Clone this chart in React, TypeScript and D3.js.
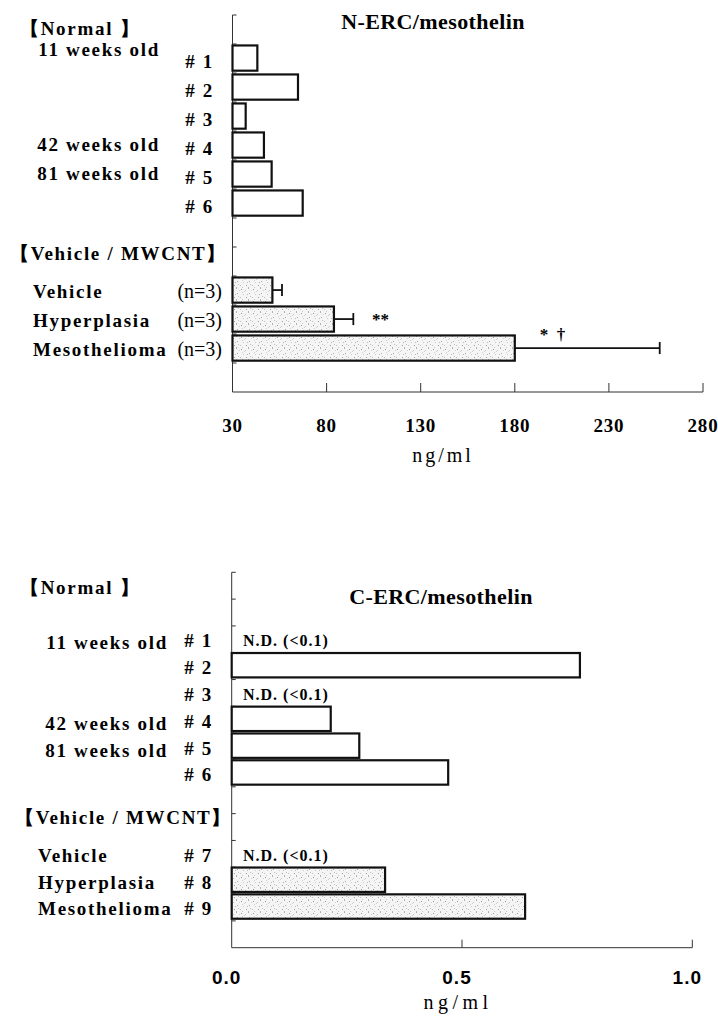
import React from "react";
import * as d3 from "d3";

// ---------- N-ERC/mesothelin (top) ----------
const nRows = ["top", "# 1", "# 2", "# 3", "# 4", "# 5", "# 6", "gap1", "gap2", "Vehicle", "Hyperplasia", "Mesothelioma", "bottom"];
const nBarKeys = ["# 1", "# 2", "# 3", "# 4", "# 5", "# 6", "Vehicle", "Hyperplasia", "Mesothelioma"];
const nValues = [43.2, 64.8, 37.0, 46.7, 50.8, 67.3, 51.2, 83.9, 180.0];
const nErrors = [0, 0, 0, 0, 0, 0, 5.1, 10.3, 77.0];
const nShaded = [false, false, false, false, false, false, true, true, true];
const nSignificance = ["", "", "", "", "", "", "", "**", "*  \u2020"];
const nTicks = [30, 80, 130, 180, 230, 280];
const nAgeRows = ["# 1", "# 4", "# 5"];
const nAgeLabels = ["11 weeks old", "42 weeks old", "81 weeks old"];
const nGroupRows = ["Vehicle", "Hyperplasia", "Mesothelioma"];
const nGroupCounts = ["(n=3)", "(n=3)", "(n=3)"];

// ---------- C-ERC/mesothelin (bottom) ----------
const cRows = ["top0", "top1", "# 1", "# 2", "# 3", "# 4", "# 5", "# 6", "gap1", "gap2", "# 7", "# 8", "# 9", "bottom"];
const cBarKeys = ["# 1", "# 2", "# 3", "# 4", "# 5", "# 6", "# 7", "# 8", "# 9"];
const cValues: (number | null)[] = [null, 0.756, null, 0.215, 0.277, 0.47, null, 0.333, 0.637];
const cShaded = [false, false, false, false, false, false, true, true, true];
const cTicks = [0, 0.5, 1.0];
const cAgeRows = ["# 1", "# 4", "# 5"];
const cAgeLabels = ["11 weeks old", "42 weeks old", "81 weeks old"];
const cGroupRows = ["# 7", "# 8", "# 9"];
const cGroupLabels = ["Vehicle", "Hyperplasia", "Mesothelioma"];
const ndText = "N.D. (<0.1)";

const SERIF = "'Liberation Serif', 'Times New Roman', serif";
const SANS = "'Liberation Sans', Arial, sans-serif";

function Pattern() {
  const dots: [number, number, string][] = [
    [1, 1, "#9a9a9a"], [5, 2, "#c4c4c4"], [8, 0, "#b0b0b0"], [3, 6, "#c8c8c8"], [9, 5, "#a8a8a8"],
    [0, 9, "#bdbdbd"], [6, 9, "#a0a0a0"], [4, 3, "#d4d4d4"], [10, 8, "#c0c0c0"], [2, 4, "#d0d0d0"],
    [7, 6, "#b8b8b8"], [11, 2, "#cfcfcf"], [8, 11, "#b4b4b4"], [2, 11, "#c8c8c8"],
  ];
  return (
    <pattern id="stipple" width={12} height={12} patternUnits="userSpaceOnUse">
      <rect width={12} height={12} fill="#f5f5f5" />
      {dots.map(([x, y, c], i) => (
        <rect key={i} x={x} y={y} width={1} height={1} fill={c} />
      ))}
    </pattern>
  );
}

export default function App() {
  // Top chart scales
  const yN = d3.scaleBand<string>().domain(nRows).range([15, 392]);
  const xN = d3.scaleLinear().domain([30, 280]).range([232.5, 703]);
  const bwN = yN.bandwidth();
  const cyN = (k: string) => (yN(k) as number) + bwN / 2;

  // Bottom chart scales
  const yC = d3.scaleBand<string>().domain(cRows).range([572.3, 947.7]);
  const xC = d3.scaleLinear().domain([0, 1]).range([231.7, 692.3]);
  const bwC = yC.bandwidth();
  const cyC = (k: string) => (yC(k) as number) + bwC / 2;

  const labelStyle: React.CSSProperties = {
    fontFamily: SERIF,
    fontWeight: "bold",
    fontSize: 19,
    letterSpacing: 1.7,
  };

  const sigDx = [0, 0, 0, 0, 0, 0, 0, 38, 25];

  return (
    <svg width={718} height={1022} style={{ position: "absolute", left: 0, top: 0, background: "#fff" }}>
      <defs>
        <Pattern />
      </defs>

      {/* ================= TOP CHART ================= */}
      <text x={433} y={29} textAnchor="middle" fontFamily={SERIF} fontWeight="bold" fontSize={22} letterSpacing={0.4}>
        N-ERC/mesothelin
      </text>

      <line x1={xN(30)} x2={xN(30)} y1={yN.range()[0]} y2={yN.range()[1]} stroke="#333" strokeWidth={1} />
      {nRows.map((r) => (
        <line key={"nt" + r} x1={xN(30)} x2={xN(30) + 4} y1={yN(r)} y2={yN(r)} stroke="#333" strokeWidth={1} />
      ))}
      <line x1={xN(30)} x2={xN(280)} y1={yN.range()[1]} y2={yN.range()[1]} stroke="#333" strokeWidth={1} />
      {nTicks.slice(1).map((t) => (
        <line key={"nxt" + t} x1={xN(t)} x2={xN(t)} y1={yN.range()[1]} y2={yN.range()[1] - 9} stroke="#333" strokeWidth={1} />
      ))}
      {nTicks.map((t) => (
        <text key={"nxl" + t} x={xN(t)} y={432} textAnchor="middle" fontFamily={SERIF} fontWeight="bold" fontSize={19} letterSpacing={0.8}>
          {t}
        </text>
      ))}
      <text x={443} y={462} textAnchor="middle" fontFamily={SERIF} fontSize={20} letterSpacing={3}>
        ng/ml
      </text>

      {nBarKeys.map((k, i) => {
        const y0 = (yN(k) as number) + bwN * 0.05;
        const h = bwN * 0.87;
        return (
          <rect key={"nb" + k} x={xN(30)} y={y0} width={xN(nValues[i]) - xN(30)} height={h}
            fill={nShaded[i] ? "url(#stipple)" : "#fff"} stroke="#111" strokeWidth={2.2} />
        );
      })}
      {nBarKeys.map((k, i) => {
        if (!nErrors[i]) return null;
        const cy = (yN(k) as number) + bwN * 0.05 + (bwN * 0.87) / 2;
        const xe = xN(nValues[i] + nErrors[i]);
        return (
          <g key={"ne" + k} stroke="#111" strokeWidth={1.8}>
            <line x1={xN(nValues[i])} x2={xe} y1={cy} y2={cy} />
            <line x1={xe} x2={xe} y1={cy - 6} y2={cy + 6} />
          </g>
        );
      })}
      {nBarKeys.map((k, i) => {
        if (!nSignificance[i]) return null;
        const cy = cyN(k);
        const dy = i === 8 ? -9 : 5;
        return (
          <text key={"ns" + k} x={xN(nValues[i]) + sigDx[i]} y={cy + dy} fontFamily={SERIF} fontWeight="bold" fontSize={17} style={{ whiteSpace: "pre" }}>
            {nSignificance[i]}
          </text>
        );
      })}

      <text x={20} y={35} style={labelStyle}>
        【Normal 】
      </text>
      {nBarKeys.slice(0, 6).map((k) => (
        <text key={"nl" + k} x={214} y={cyN(k) + 9} textAnchor="end" style={labelStyle}>
          {k}
        </text>
      ))}
      {nAgeRows.map((r, i) => (
        <text key={"na" + r} x={160} y={cyN(r) + (i === 0 ? -3 : 5)} textAnchor="end" style={labelStyle}>
          {nAgeLabels[i]}
        </text>
      ))}
      <text x={10} y={cyN("gap2") - 2} style={labelStyle}>
        【Vehicle / MWCNT】
      </text>
      {nGroupRows.map((r, i) => (
        <g key={"ng" + r}>
          <text x={33} y={cyN(r) + 7} style={labelStyle}>
            {r}
          </text>
          <text x={222} y={cyN(r) + 7} textAnchor="end" fontFamily={SERIF} fontSize={20}>
            {nGroupCounts[i]}
          </text>
        </g>
      ))}

      {/* ================= BOTTOM CHART ================= */}
      <text x={441} y={604} textAnchor="middle" fontFamily={SERIF} fontWeight="bold" fontSize={22} letterSpacing={0.4}>
        C-ERC/mesothelin
      </text>
      <line x1={xC(0)} x2={xC(0)} y1={yC.range()[0]} y2={yC.range()[1]} stroke="#333" strokeWidth={1} />
      {cRows.map((r) => (
        <line key={"ct" + r} x1={xC(0)} x2={xC(0) + 4} y1={yC(r)} y2={yC(r)} stroke="#333" strokeWidth={1} />
      ))}
      <line x1={xC(0)} x2={xC(1)} y1={yC.range()[1]} y2={yC.range()[1]} stroke="#333" strokeWidth={1} />
      {cTicks.slice(1).map((t) => (
        <line key={"cxt" + t} x1={xC(t)} x2={xC(t)} y1={yC.range()[1]} y2={yC.range()[1] - 8} stroke="#333" strokeWidth={1} />
      ))}
      {cTicks.map((t) => (
        <text key={"cxl" + t} x={xC(t) - 5} y={984} textAnchor="middle" fontFamily={SANS} fontWeight="bold" fontSize={19} letterSpacing={1}>
          {d3.format(".1f")(t)}
        </text>
      ))}
      <text x={458} y={1009} textAnchor="middle" fontFamily={SERIF} fontSize={20} letterSpacing={4.5}>
        ng/ml
      </text>

      {cBarKeys.map((k, i) => {
        const v = cValues[i];
        if (v == null) {
          return (
            <text key={"cnd" + k} x={243} y={cyC(k) + 7} fontFamily={SERIF} fontWeight="bold" fontSize={16} letterSpacing={1}>
              {ndText}
            </text>
          );
        }
        const y0 = (yC(k) as number) + bwC * 0.01;
        const h = bwC * 0.91;
        return (
          <rect key={"cb" + k} x={xC(0)} y={y0} width={xC(v) - xC(0)} height={h}
            fill={cShaded[i] ? "url(#stipple)" : "#fff"} stroke="#111" strokeWidth={2.2} />
        );
      })}

      <text x={20} y={cyC("top0") + 8} style={labelStyle}>
        【Normal 】
      </text>
      {cBarKeys.map((k) => (
        <text key={"cl" + k} x={213} y={cyC(k) + 8} textAnchor="end" style={labelStyle}>
          {k}
        </text>
      ))}
      {cAgeRows.map((r, i) => (
        <text key={"ca" + r} x={168} y={cyC(r) + 10} textAnchor="end" style={labelStyle}>
          {cAgeLabels[i]}
        </text>
      ))}
      <text x={15} y={cyC("gap2") - 3} style={labelStyle}>
        【Vehicle / MWCNT】
      </text>
      {cGroupRows.map((r, i) => (
        <text key={"cg" + r} x={38} y={cyC(r) + 8} style={labelStyle}>
          {cGroupLabels[i]}
        </text>
      ))}
    </svg>
  );
}
